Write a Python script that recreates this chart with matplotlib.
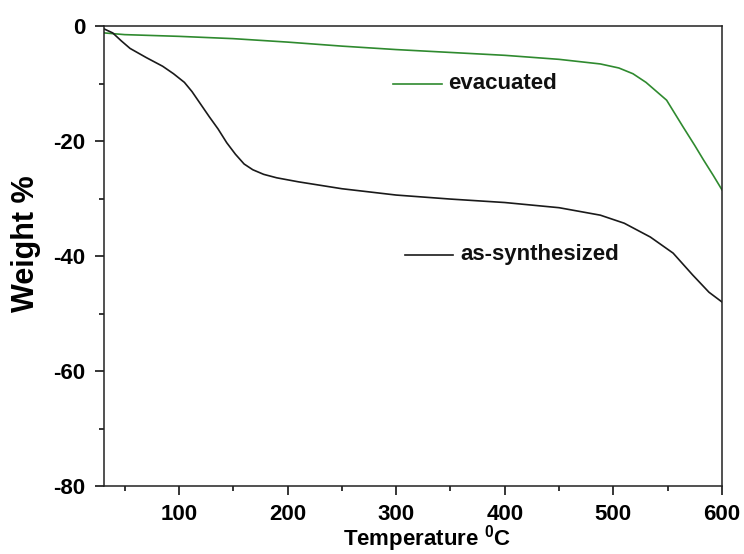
import matplotlib
matplotlib.use("Agg")
import matplotlib.pyplot as plt
from matplotlib.ticker import MultipleLocator

plt.rcParams['font.family'] = ['Liberation Sans', 'DejaVu Sans']
plt.rcParams['mathtext.fontset'] = 'custom'
plt.rcParams['mathtext.bf'] = 'Liberation Sans:bold'
plt.rcParams['mathtext.rm'] = 'Liberation Sans'
plt.rcParams['axes.unicode_minus'] = False

# as-synthesized
temp_as = [31, 39, 47, 55, 70, 85, 95, 105, 112, 120, 128, 136, 144, 152, 160, 168, 178, 190, 210,
           250, 300, 350, 400, 450, 488, 510, 534, 555, 573, 588, 600]
wt_as = [-0.5, -1.2, -2.6, -3.9, -5.5, -7.0, -8.3, -9.8, -11.4, -13.6, -15.8, -17.9, -20.3, -22.3,
         -24.0, -25.0, -25.8, -26.4, -27.1, -28.3, -29.4, -30.1, -30.7, -31.6, -32.9, -34.3, -36.7,
         -39.5, -43.3, -46.3, -48.0]

# evacuated
temp_ev = [31, 50, 100, 150, 200, 250, 300, 350, 400, 450, 488, 505, 518, 530, 549, 564, 575, 583, 592, 600]
wt_ev = [-1.2, -1.5, -1.8, -2.2, -2.8, -3.5, -4.1, -4.6, -5.1, -5.8, -6.6, -7.3, -8.3, -9.8,
         -12.9, -17.5, -20.8, -23.3, -26.0, -28.5]

labels = ["evacuated", "as-synthesized"]
label_y = [-10.0, -39.8]
sample_x = [[297, 342], [308, 352]]
text_x = [348, 359]
colors = ["#2f8a2f", "#1a1a1a"]

fig = plt.figure(figsize=(7.44, 5.54), dpi=100)
ax = fig.add_axes([104/744, 1-486/554, (722-104)/744, (486-26)/554])

ax.plot(temp_ev, wt_ev, color=colors[0], lw=1.2)
ax.plot(temp_as, wt_as, color=colors[1], lw=1.2)

for lab, yy, sx, tx, c in zip(labels, label_y, sample_x, text_x, colors):
    ax.plot(sx, [yy, yy], color=c, lw=1.2)
    ax.text(tx, yy, lab, fontsize=16, fontweight='bold', va='center', ha='left', color='#111111')

ax.set_xlim(31, 600)
ax.set_ylim(-80, 0)
ax.xaxis.set_major_locator(MultipleLocator(100))
ax.xaxis.set_minor_locator(MultipleLocator(50))
ax.yaxis.set_major_locator(MultipleLocator(20))
ax.yaxis.set_minor_locator(MultipleLocator(10))
ax.tick_params(which='major', direction='out', length=6.5, width=1.1, labelsize=16)
ax.tick_params(axis='x', which='major', pad=6.5)
ax.tick_params(axis='y', which='major', pad=7)
ax.tick_params(which='minor', direction='out', length=3.5, width=1.1)
for lbl in ax.get_xticklabels() + ax.get_yticklabels():
    lbl.set_fontweight('bold')
for s in ax.spines.values():
    s.set_linewidth(1.1)
    s.set_color('#222222')

ax.set_xlabel(r"Temperature $^{\mathbf{0}}$C", fontsize=16, fontweight='bold')
ax.xaxis.set_label_coords(0.522, -0.0815)
ax.set_ylabel("Weight %", fontsize=22, fontweight='bold')
ax.yaxis.set_label_coords(-0.102, 0.526)

fig.savefig("out.png", dpi=100)
